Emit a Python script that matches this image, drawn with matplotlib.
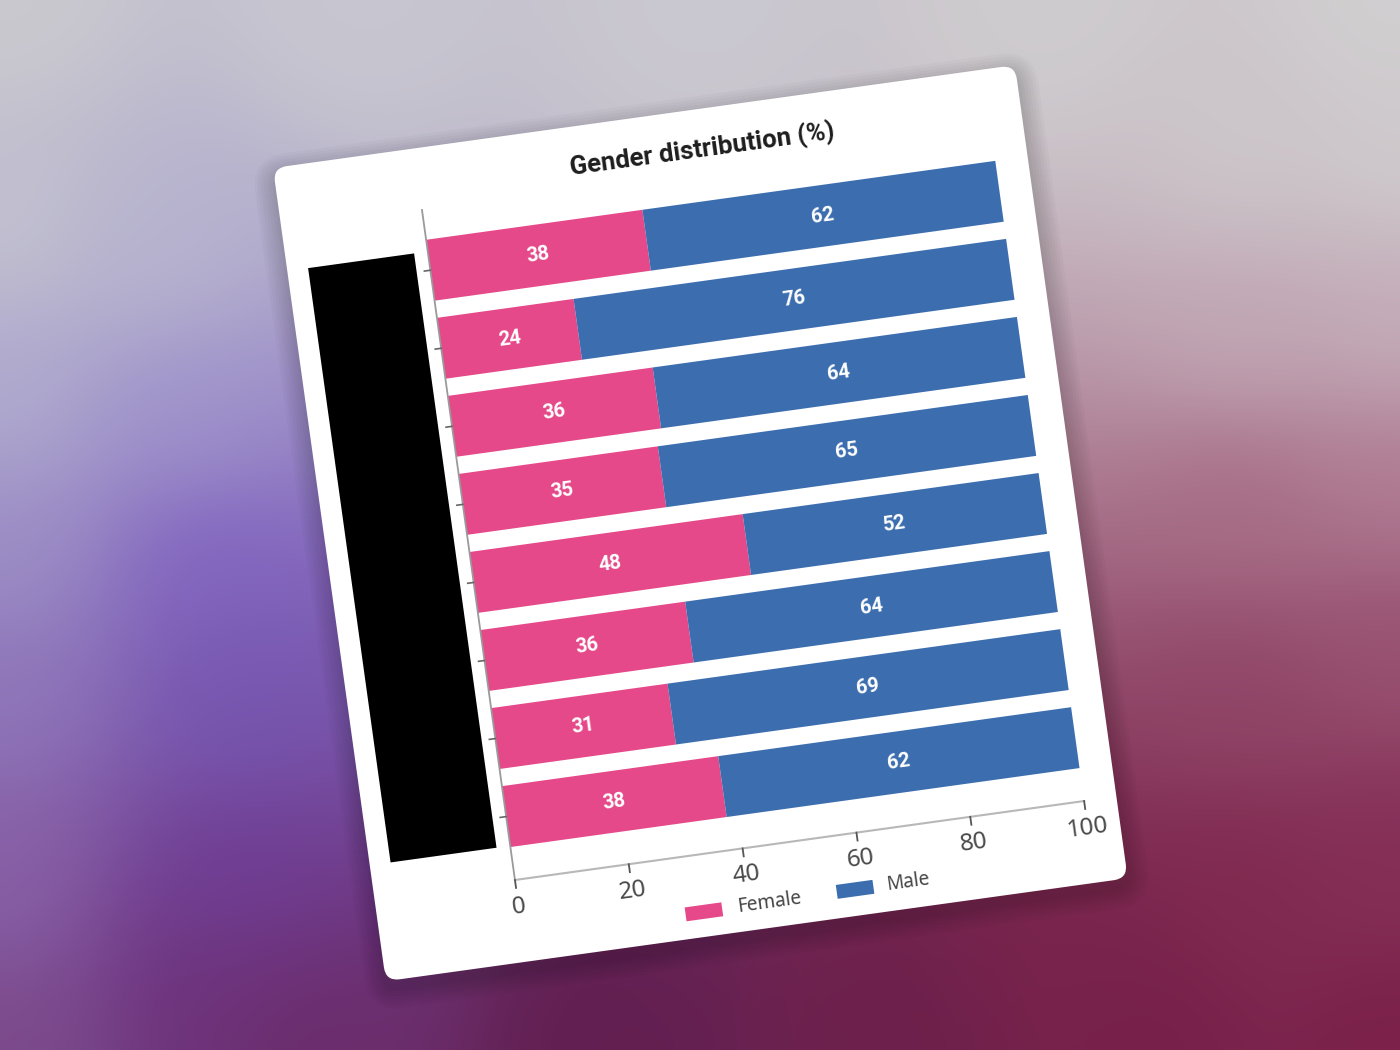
import numpy as np
import matplotlib
matplotlib.use("Agg")
import matplotlib.pyplot as plt
from matplotlib.patches import FancyBboxPatch, Rectangle
from matplotlib.transforms import Affine2D
from matplotlib.colors import to_rgb

plt.rcParams['font.family'] = ['Noto Sans', 'DejaVu Sans']
BOLD = ['Roboto', 'DejaVu Sans']

# data (category names are blacked out in the source)
female = [38, 24, 36, 35, 48, 36, 31, 38]
male = [62, 76, 64, 65, 52, 64, 69, 62]
x_ticks = [0, 20, 40, 60, 80, 100]
series_names = ["Female", "Male"]
series_colors = ["#E5498A", "#3C6EAF"]
title = "Gender distribution (%)"

W, H = 1400, 1050
ANG = 7.9  # card tilt, degrees

fig = plt.figure(figsize=(14, 10.5), dpi=100)
ax = fig.add_axes([0, 0, 1, 1])
ax.set_autoscale_on(False)
ax.set_xlim(0, W)
ax.set_ylim(H, 0)
ax.axis('off')

# blurred backdrop
bg_pts = [
    (0, 0, '#cbcacf'), (350, 0, '#c8c7d0'), (700, 0, '#cac8d0'), (1050, 0, '#cfcdd0'),
    (1400, 0, '#d2d1d2'), (1400, 150, '#d0cdcf'), (1250, 150, '#cdc8cc'),
    (1400, 330, '#c6b1bc'), (1250, 330, '#c2a9b6'), (1400, 480, '#b07a93'),
    (1250, 500, '#a66a84'), (1400, 650, '#985070'), (1250, 700, '#8f4466'),
    (1400, 850, '#852d56'), (1250, 880, '#80284f'), (1400, 1050, '#7a1f48'),
    (1150, 1050, '#761f49'), (900, 1050, '#6c1f4b'), (600, 1050, '#611e4f'),
    (300, 1050, '#6a2a66'), (0, 1050, '#7c4a8a'), (0, 880, '#8a62a8'),
    (0, 700, '#8f76ba'), (0, 550, '#9d90c6'), (0, 400, '#b2aed0'), (0, 220, '#c5c4d0'),
    (150, 250, '#b8b5cf'), (180, 420, '#9f94cc'), (200, 560, '#7e5ec0'),
    (220, 700, '#7454b0'), (220, 880, '#6e3c96'), (200, 1000, '#6c2f78'),
    (1100, 980, '#78234b'),
]
gx = np.linspace(0, W, 141)
gy = np.linspace(0, H, 106)
XX, YY = np.meshgrid(gx, gy)
num = np.zeros(XX.shape + (3,))
den = np.zeros(XX.shape)
for px, py, col in bg_pts:
    w = 1.0 / ((XX - px) ** 2 + (YY - py) ** 2 + 120.0 ** 2) ** 2
    num += w[..., None] * np.array(to_rgb(col))
    den += w
ax.imshow(num / den[..., None], extent=(0, W, H, 0), interpolation='bicubic',
          aspect='auto', zorder=0)

# card frame (local pixels, u right / v down)
card_tf = Affine2D().rotate_deg(-ANG).translate(273, 168) + ax.transData
card_w, card_h = 749, 821
for k in range(1, 8):
    ax.add_patch(FancyBboxPatch((-3 * k, -3 * k + 8), card_w + 6 * k, card_h + 6 * k,
                                boxstyle="round,pad=0,rounding_size=%d" % (14 + 3 * k),
                                fc='black', ec='none', alpha=0.025,
                                transform=card_tf, zorder=1))
ax.add_patch(FancyBboxPatch((0, 0), card_w, card_h,
                            boxstyle="round,pad=0,rounding_size=14",
                            fc='white', ec='none', transform=card_tf, zorder=2))

# chart frame: x in %, y in category slots
sx, sy = 5.746, 78.8
chart_tf = Affine2D().scale(sx, -sy).translate(141.8, 674.5) + card_tf
ypos = np.arange(len(female))[::-1]
y_lo = (674.5 - 738.5) / sy
y_hi = (674.5 - 62) / sy

ax.barh(ypos, female, height=0.78, color=series_colors[0], linewidth=0,
        transform=chart_tf, zorder=3)
ax.barh(ypos, male, left=female, height=0.78, color=series_colors[1], linewidth=0,
        transform=chart_tf, zorder=3)

for y, f, m in zip(ypos, female, male):
    for xc, v in ((f / 2, f), (f + m / 2, m)):
        ax.text(xc, y, str(v), transform=chart_tf, rotation=ANG, rotation_mode='anchor',
                ha='center', va='center', color='white', fontsize=14.5, fontweight='bold',
                family=BOLD, zorder=4)

# axes lines and ticks
ax.plot([0, 0], [y_lo, y_hi], color='#9a9a9a', lw=1.3, transform=chart_tf, zorder=4)
ax.plot([0, 100], [y_lo, y_lo], color='#b8b8b8', lw=1.5, transform=chart_tf, zorder=4)
for t in x_ticks:
    ax.plot([t, t], [y_lo, y_lo - 8 / sy], color='#555555', lw=1.3, transform=chart_tf, zorder=4)
    ax.text(t, y_lo - 27 / sy, str(t), transform=chart_tf, rotation=ANG, rotation_mode='anchor',
            ha='center', va='center', color='#4a4a4a', fontsize=17.5, zorder=4)
for y in ypos:
    ax.plot([0, -6 / sx], [y, y], color='#666666', lw=1.2, transform=chart_tf, zorder=4)

# redaction box over category labels
ax.add_patch(Rectangle((21, 104), 107, 600, fc='black', ec='none',
                       transform=card_tf, zorder=4))

ax.text(427.4, 41.2, title, transform=card_tf, rotation=ANG, rotation_mode='anchor',
        ha='center', va='center', fontsize=18.5, fontweight='bold', family=BOLD,
        color='#1e1e1e', zorder=4)

# legend
leg_swatch = [(324.6, 796.0), (477.4, 794.5)]
leg_text = [358, 509]
for (cu, cv), tu, name, col in zip(leg_swatch, leg_text, series_names, series_colors):
    ax.add_patch(Rectangle((cu - 18.5, cv - 7), 37, 14, fc=col, ec='none',
                           transform=card_tf, zorder=4))
    ax.text(tu, cv, name, transform=card_tf, rotation=ANG, rotation_mode='anchor',
            ha='left', va='center', fontsize=13.7, color='#444444', zorder=4)

ax.set_xlim(0, W)
ax.set_ylim(H, 0)
fig.savefig("out.png", dpi=100)
